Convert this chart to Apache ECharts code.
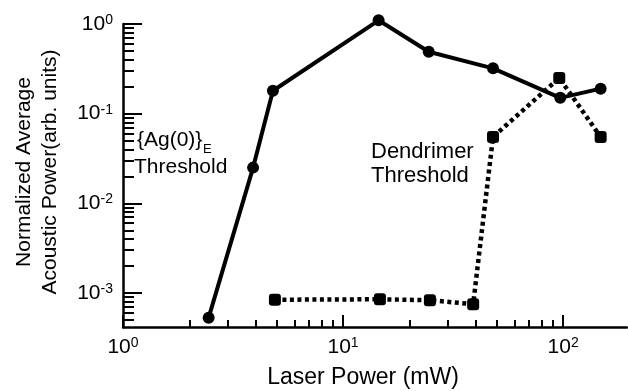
<!DOCTYPE html>
<html>
<head>
<meta charset="utf-8">
<script src="https://cdn.jsdelivr.net/npm/echarts@6/dist/echarts.min.js"></script>
<style>
  html, body { margin: 0; padding: 0; background: #fff; }
  #main { width: 628px; height: 391px; }
</style>
</head>
<body>
<div id="main"></div>
<script>
// laser power (mW) vs normalized average acoustic power
const agPower = [2.45, 3.9, 4.8, 14.5, 24.5, 48, 97, 148];
const agSignal = [0.00053, 0.025, 0.18, 1.1, 0.49, 0.32, 0.15, 0.19];

const denPower = [4.9, 14.7, 24.8, 39, 48, 96, 148];
const denSignal = [0.00084, 0.00085, 0.00083, 0.00075, 0.055, 0.25, 0.055];

const xMajor = [1, 10, 100];
const xMinor = [2, 3, 4, 5, 6, 7, 8, 9, 20, 30, 40, 50, 60, 70, 80, 90];
const yMajor = [0.001, 0.01, 0.1, 1];
const yMinor = [0.0005, 0.0006, 0.0007, 0.0008, 0.0009,
  0.002, 0.003, 0.004, 0.005, 0.006, 0.007, 0.008, 0.009,
  0.02, 0.03, 0.04, 0.05, 0.06, 0.07, 0.08, 0.09,
  0.2, 0.3, 0.4, 0.5, 0.6, 0.7, 0.8, 0.9];

const FONT = '"Liberation Sans", Arial, Helvetica, sans-serif';
const xMin = 1, xMax = 195, yMin = 0.000417, yMax = 1;

function pow10Label(v) {
  const e = Math.round(Math.log10(v));
  if (Math.abs(Math.log10(v) - e) > 1e-6) return '';
  return '{b|10}{s|' + e + '}';
}
const labelRich = {
  b: { fontSize: 21, lineHeight: 22, color: '#000', fontFamily: FONT },
  s: { fontSize: 14, lineHeight: 14, verticalAlign: 'top', color: '#000', fontFamily: FONT }
};

const chart = echarts.init(document.getElementById('main'));

chart.setOption({
  animation: false,
  backgroundColor: '#fff',
  grid: { left: 123, top: 24, right: 1, bottom: 64, containLabel: false },
  xAxis: [
    {
      type: 'log', logBase: 10, min: xMin, max: xMax,
      splitLine: { show: false },
      axisLine: { show: true, lineStyle: { color: '#000', width: 2.5 } },
      axisTick: { show: true, inside: true, length: 12, customValues: xMajor,
        lineStyle: { color: '#000', width: 2 } },
      axisLabel: { show: true, customValues: xMajor, margin: 9, formatter: pow10Label, rich: labelRich }
    },
    {
      type: 'log', logBase: 10, min: xMin, max: xMax, position: 'bottom',
      splitLine: { show: false },
      axisLine: { show: false },
      axisTick: { show: true, inside: true, length: 7, customValues: xMinor,
        lineStyle: { color: '#000', width: 2 } },
      axisLabel: { show: false }
    }
  ],
  yAxis: [
    {
      type: 'log', logBase: 10, min: yMin, max: yMax,
      splitLine: { show: false },
      axisLine: { show: true, lineStyle: { color: '#000', width: 2.5 } },
      axisTick: { show: true, inside: true, length: 19, customValues: yMajor,
        lineStyle: { color: '#000', width: 2 } },
      axisLabel: { show: true, customValues: yMajor, margin: 10, formatter: pow10Label, rich: labelRich }
    },
    {
      type: 'log', logBase: 10, min: yMin, max: yMax, position: 'left',
      splitLine: { show: false },
      axisLine: { show: false },
      axisTick: { show: true, inside: true, length: 11, customValues: yMinor,
        lineStyle: { color: '#000', width: 2 } },
      axisLabel: { show: false }
    }
  ],
  series: [
    {
      name: '{Ag(0)}E', type: 'line', xAxisIndex: 0, yAxisIndex: 0,
      data: agPower.map((x, i) => [x, agSignal[i]]),
      clip: false,
      symbol: 'circle', symbolSize: 12,
      lineStyle: { color: '#000', width: 4 },
      itemStyle: { color: '#000' },
      z: 3
    },
    {
      name: 'Dendrimer', type: 'line', xAxisIndex: 0, yAxisIndex: 0,
      data: denPower.map((x, i) => [x, denSignal[i]]),
      clip: false,
      symbol: 'roundRect', symbolSize: 12,
      lineStyle: { color: '#000', width: 4.5, type: [4, 3.5], cap: 'butt' },
      itemStyle: { color: '#000' },
      z: 2
    }
  ],
  graphic: [
    { type: 'text', left: 137, top: 130,
      style: { text: '{Ag(0)}', font: '21px ' + FONT, fill: '#000' } },
    { type: 'text', left: 203, top: 143,
      style: { text: 'E', font: '13px ' + FONT, fill: '#000' } },
    { type: 'text', left: 134, top: 157,
      style: { text: 'Threshold', font: '21px ' + FONT, fill: '#000' } },
    { type: 'text', left: 371, top: 141,
      style: { text: 'Dendrimer', font: '22px ' + FONT, fill: '#000' } },
    { type: 'text', left: 371, top: 165,
      style: { text: 'Threshold', font: '22px ' + FONT, fill: '#000' } },
    { type: 'text', x: 363, y: 378,
      style: { text: 'Laser Power (mW)', font: '23px ' + FONT, fill: '#000',
        align: 'center', verticalAlign: 'middle' } },
    { type: 'text', x: 37, y: 172, rotation: Math.PI / 2,
      style: { text: 'Normalized Average\nAcoustic Power(arb. units)', font: '21px ' + FONT,
        fill: '#000', align: 'center', verticalAlign: 'middle', lineHeight: 26 } }
  ]
});
</script>
</body>
</html>
